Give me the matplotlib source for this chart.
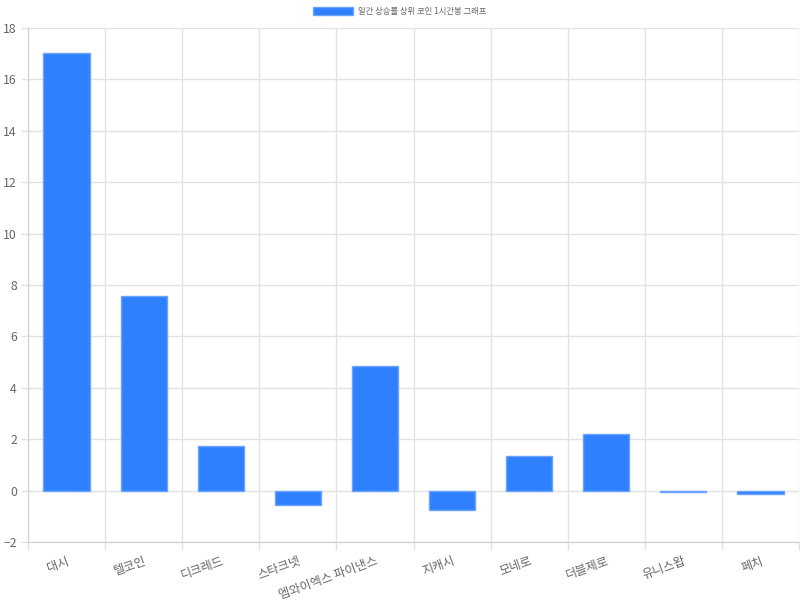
import numpy as np
import matplotlib.pyplot as plt
from matplotlib.patches import Patch

plt.rcParams['font.family'] = ['Noto Sans CJK KR', 'DejaVu Sans']

coins = ['대시', '텔코인', '디크레드', '스타크넷', '엠와이엑스 파이낸스',
         '지캐시', '모네로', '더블제로', '유니스왑', '페치']
change = [17.02, 7.59, 1.75, -0.58, 4.86, -0.74, 1.36, 2.22, -0.05, -0.12]
series_name = '일간 상승률 상위 코인 1시간봉 그래프'

bar_color = '#2f80ff'
edge_color = '#6aa4ff'
grid_color = '#e2e2e2'
text_color = '#666666'

fig = plt.figure(figsize=(8, 6), dpi=100)
ax = fig.add_axes([0.035, 0.0967, 0.96375, 0.8566])

x = np.arange(len(coins))
ax.bar(x, change, width=0.6, color=bar_color, edgecolor=edge_color,
       linewidth=1, zorder=3)

ax.set_xlim(-0.5, len(coins) - 0.5)
ax.set_ylim(-2, 18)
ax.set_yticks(np.arange(-2, 19, 2))

# labels at centers, grid at category boundaries
ax.set_xticks(x)
ax.set_xticklabels(coins, rotation=20, ha='right', rotation_mode='anchor',
                   fontsize=8.8, color=text_color)
ax.set_xticks(np.arange(-0.5, len(coins), 1), minor=True)
ax.tick_params(axis='x', which='major', length=0, pad=9)
ax.tick_params(axis='x', which='minor', length=6, color=grid_color, width=1)
ax.tick_params(axis='y', length=5, color=grid_color, width=1,
               labelsize=8.8, labelcolor=text_color, pad=3)

ax.grid(True, which='minor', axis='x', color=grid_color, linewidth=1, zorder=0)
ax.grid(True, which='major', axis='y', color=grid_color, linewidth=1, zorder=0)
ax.set_axisbelow(True)

for side in ['top', 'right']:
    ax.spines[side].set_visible(False)
ax.spines['left'].set_color('#cfcfcf')
ax.spines['bottom'].set_color('#cfcfcf')

handle = Patch(facecolor=bar_color, edgecolor=edge_color)
fig.legend([handle], [series_name], loc='upper center', bbox_to_anchor=(0.5, 1.0),
           frameon=False, fontsize=6, handlelength=4.8, handleheight=1.0,
           labelcolor=text_color, borderaxespad=0.4, handletextpad=0.6)

fig.savefig('out.png', dpi=100)
